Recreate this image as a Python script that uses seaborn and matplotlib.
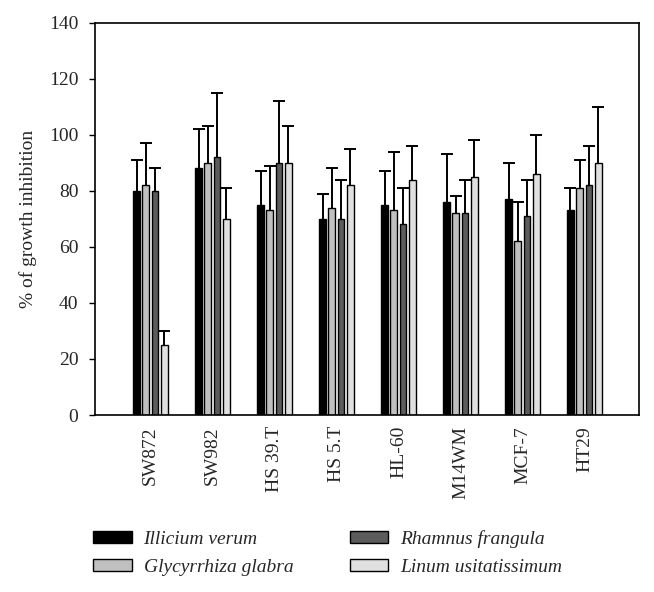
import pandas as pd
import matplotlib
matplotlib.use("Agg")
import matplotlib.pyplot as plt
import seaborn as sns

# cell lines and extracts
cells = ["SW872", "SW982", "HS 39.T", "HS 5.T", "HL-60", "M14WM", "MCF-7", "HT29"]
extracts = ["Illicium verum", "Glycyrrhiza glabra", "Rhamnus frangula", "Linum usitatissimum"]

# mean % of growth inhibition per extract (same order as cells)
illicium = [80, 88, 75, 70, 75, 76, 77, 73]
glycyrrhiza = [82, 90, 73, 74, 73, 72, 62, 81]
rhamnus = [80, 92, 90, 70, 68, 72, 71, 82]
linum = [25, 70, 90, 82, 84, 85, 86, 90]

# upper error (SD) per extract
illicium_err = [11, 14, 12, 9, 12, 17, 13, 8]
glycyrrhiza_err = [15, 13, 16, 14, 21, 6, 14, 10]
rhamnus_err = [8, 23, 22, 14, 13, 12, 13, 14]
linum_err = [5, 11, 13, 13, 12, 13, 14, 20]

means = [illicium, glycyrrhiza, rhamnus, linum]
errs = [illicium_err, glycyrrhiza_err, rhamnus_err, linum_err]
colors = ["#000000", "#c0c0c0", "#5c5c5c", "#e0e0e0"]

rows = []
for name, vals in zip(extracts, means):
    for c, v in zip(cells, vals):
        rows.append({"cell": c, "extract": name, "value": v})
df = pd.DataFrame(rows)

sns.set_style("white")
plt.rcParams["font.family"] = ["Liberation Serif", "DejaVu Serif"]
plt.rcParams["font.size"] = 14

fig = plt.figure(figsize=(6.54, 5.92), dpi=100)
ax = fig.add_axes([95 / 654, 1 - 415 / 592, 544 / 654, (415 - 22.7) / 592])

sns.barplot(data=df, x="cell", y="value", hue="extract", order=cells,
            hue_order=extracts, palette=colors, width=0.6, gap=0.28,
            edgecolor="black", linewidth=1, errorbar=None, legend=True, ax=ax)

# one-sided error bars on top of each bar (only the upper cap)
for cont, e in zip(ax.containers, errs):
    for bar, err in zip(cont.patches, e):
        xc = bar.get_x() + bar.get_width() / 2
        h = bar.get_height()
        _, caps, _ = ax.errorbar(xc, h, yerr=[[0], [err]], fmt="none", ecolor="black",
                                 elinewidth=1.4, capsize=4, capthick=1.4, zorder=1)
        low = min(caps, key=lambda c: c.get_ydata()[0])
        low.set_visible(False)

ax.set_ylim(0, 140)
ax.set_yticks(range(0, 141, 20))
ax.set_xlim(-0.895, 7.88)
ax.set_xlabel("")
ax.set_ylabel("% of growth inhibition", fontsize=14)
ax.yaxis.set_label_coords(-0.107, 0.5)
ax.tick_params(axis="y", which="major", left=True, length=4, width=1,
               direction="out", pad=8, labelsize=14, color="black")
ax.tick_params(axis="x", length=0, pad=8, labelsize=14, labelrotation=90)
for s in ax.spines.values():
    s.set_visible(True)
    s.set_color("black")
    s.set_linewidth(1.2)

handles, labels = ax.get_legend_handles_labels()
ax.get_legend().remove()
fig.legend(handles, labels, loc="upper left", bbox_to_anchor=(93 / 654, 1 - 530 / 592),
           ncol=2, frameon=False, borderpad=0, borderaxespad=0,
           handlelength=2.0, handleheight=0.62, handletextpad=0.6,
           columnspacing=2.9, labelspacing=0.55,
           prop={"family": ["Liberation Serif"], "style": "italic", "size": 14})

fig.savefig("out.png", dpi=100)
